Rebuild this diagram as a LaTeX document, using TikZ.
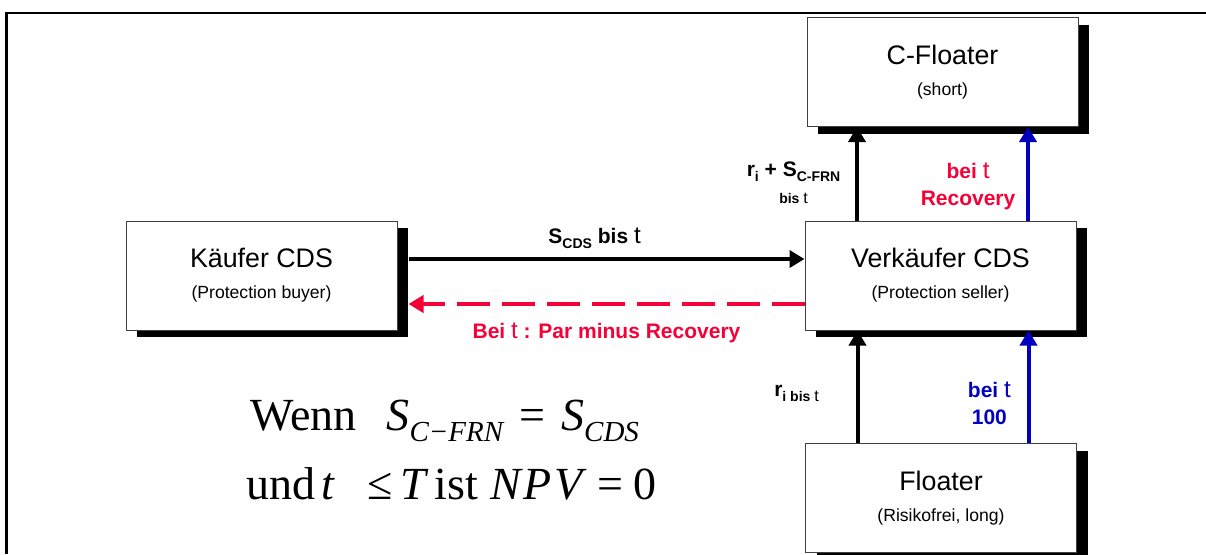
\documentclass[tikz,border=0pt]{standalone}
\usepackage{fontspec}
\setmainfont{Liberation Sans}
\newfontfamily\condfont{Liberation Serif}
\usepackage{graphicx}
\usepackage{tikz}
\usetikzlibrary{arrows.meta,shadows}
\definecolor{CDSred}{RGB}{245,0,55}
\definecolor{CDSblue}{RGB}{0,0,190}
\newcommand{\partynote}{\fontsize{8.8pt}{15.5pt}\selectfont}
\newcommand{\flowsub}[1]{\raisebox{-2.5pt}{\fontsize{7pt}{8pt}\selectfont #1}}
\newcommand{\tvar}{\scalebox{1.15}{\mdseries t}}
\newcommand{\condsub}[1]{\raisebox{-5.5pt}{\fontsize{14.5pt}{14.5pt}\selectfont\itshape #1}}
\tikzset{%
	party/.style={
		rectangle,
		draw=black!75,
		line width=0.5pt,
		fill=white,
		minimum width=135.5pt,
		minimum height=54.5pt,
		align=center,
		font=\fontsize{13.4pt}{15.5pt}\selectfont,
		drop shadow={shadow xshift=5.5pt, shadow yshift=-3.5pt, fill=black, opacity=1}
	},
	flow/.style={
		->,
		line width=2pt
	},
	flow-red/.style={ draw=CDSred },
	flow-blue/.style={ draw=CDSblue },
	flow-label/.style={
		align=center,
		font=\bfseries\fontsize{10.5pt}{13.5pt}\selectfont
	},
	cond/.style={
		anchor=base west,
		inner sep=0pt,
		font=\condfont\fontsize{23pt}{26pt}\selectfont
	},
}

\begin{document}
\begin{tikzpicture}[x=0.5pt, y=-0.5pt, >={Triangle[width=8.5pt,length=7.5pt]}]
\useasboundingbox (0,0) rectangle (1206,554);

% frame
\draw[line width=1.4pt] (6.5,554) -- (6.5,13) -- (1206,13);

% parties
\node[party] (buyer) at (261.5,275.5) {Käufer CDS\\{\partynote (Protection buyer)}};
\node[party] (seller) at (940.5,275.5) {Verkäufer CDS\\{\partynote (Protection seller)}};
\node[party] (cfloater) at (942.5,72) {C-Floater\\{\partynote (short)}};
\node[party] (floater) at (941,498) {Floater\\{\partynote (Risikofrei, long)}};

% flows between buyer and seller
\draw[flow] ([xshift=5.5pt,yshift=8.25pt]buyer.east) -- ([yshift=8.25pt]seller.west)
	node[flow-label, pos=0.47, above=1pt] {S\flowsub{CDS} bis \tvar};
\draw[flow, flow-red, dash pattern=on 16.5pt off 6pt] ([yshift=-14.25pt]seller.west) -- ([xshift=5.5pt,yshift=-14.25pt]buyer.east)
	node[flow-label, text=CDSred, midway, below=5pt] {Bei \tvar\ : Par minus Recovery};

% flows to the C-Floater
\draw[flow] ([xshift=-41.75pt]seller.north) -- ([xshift=-41.75pt]seller.north |- cfloater.south)
	node[flow-label, pos=0.4, left=4pt] {r\flowsub{i} + S\flowsub{C-FRN}\\{\fontsize{7pt}{8pt}\selectfont bis \tvar}};
\draw[flow, flow-blue] ([xshift=43.75pt]seller.north) -- ([xshift=43.75pt]seller.north |- cfloater.south)
	node[flow-label, text=CDSred, pos=0.36, left=2pt] {bei \tvar\\Recovery};

% flows from the Floater
\draw[flow] ([xshift=-41.75pt]floater.north) -- ([xshift=-41.75pt]floater.north |- seller.south)
	node[flow-label, pos=0.44, left=15pt] {r\flowsub{i bis \tvar}};
\draw[flow, flow-blue] ([xshift=43.75pt]floater.north) -- ([xshift=43.75pt]floater.north |- seller.south)
	node[flow-label, text=CDSblue, pos=0.35, left=4.5pt] {bei \tvar\\100};

% condition
\node[cond] (cond-1) at (250,430) {Wenn\hspace{15pt}\textit{S}\condsub{C−FRN}\hspace{8pt}=\hspace{8pt}\textit{S}\condsub{CDS}};
\node[cond] (cond-2) at (246,499) {und\hspace{3pt}\textit{t}\hspace{16pt}≤\hspace{4pt}\textit{T}\hspace{3pt}ist\hspace{6pt}\textit{N\hspace{1.5pt}P\hspace{1.5pt}V}\hspace{5pt}=\hspace{5pt}0};

\end{tikzpicture}
\end{document}
